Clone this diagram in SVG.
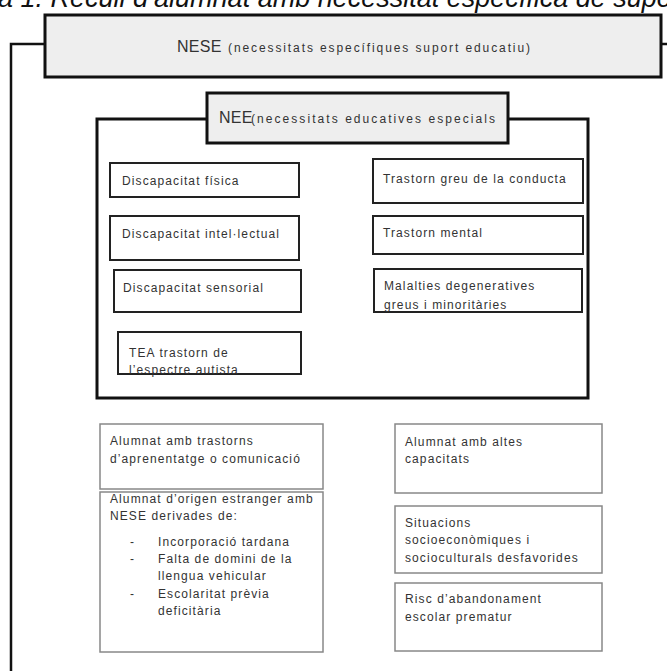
<svg xmlns="http://www.w3.org/2000/svg" width="667" height="671" viewBox="0 0 667 671">
<style>
text{font-family:"Liberation Sans",Arial,sans-serif;fill:#333;}
.cap{font-style:italic;font-size:27px;fill:#111;}
.hd{fill:#eeeeee;stroke:#111;stroke-width:3;}
.bx{fill:#fff;stroke:#222;stroke-width:2;}
.lb{fill:#fff;stroke:#888;stroke-width:1.5;}
.t{font-size:12px;letter-spacing:1.1px;}
.ht{font-size:12px;}
.big{font-size:16px;letter-spacing:0.3px;}
.conn{fill:none;stroke:#111;stroke-width:2.5;}
</style>
<rect width="667" height="671" fill="#fff"/>
<text class="cap" x="-2" y="7">a 1. Recull d’alumnat amb necessitat específica de suport</text>
<g id="connectors">
<path class="conn" d="M45,44 H11 V671"/>
<path class="conn" d="M661,44 H667"/>
</g>
<g id="nee-container">
<rect x="97" y="119" width="491" height="279" fill="none" stroke="#111" stroke-width="3"/>
</g>
<g id="nese">
<rect class="hd" x="45" y="15" width="616" height="62"/>
<text class="big" x="177" y="52">NESE</text>
<text class="ht" x="228" y="52" textLength="302" lengthAdjust="spacing">(necessitats específiques suport educatiu)</text>
</g>
<g id="nee">
<rect class="hd" x="207" y="93" width="301" height="50"/>
<text class="big" x="219" y="123">NEE</text>
<text class="ht" x="251" y="123" textLength="244" lengthAdjust="spacing">(necessitats educatives especials</text>
</g>
<g id="fisica"><rect class="bx" x="110" y="163" width="189" height="34"/><text class="t" x="122" y="185">Discapacitat física</text></g>
<g id="intel"><rect class="bx" x="110" y="216" width="189" height="44"/><text class="t" x="122" y="238">Discapacitat intel·lectual</text></g>
<g id="sensorial"><rect class="bx" x="114" y="270" width="187" height="42"/><text class="t" x="123" y="292">Discapacitat sensorial</text></g>
<g id="tea"><rect class="bx" x="118" y="332" width="183" height="42"/><text class="t" x="129" y="357">TEA trastorn de</text><text class="t" x="129" y="374">l’espectre autista</text></g>
<g id="greu"><rect class="bx" x="373" y="159" width="210" height="44"/><text class="t" x="383" y="183">Trastorn greu de la conducta</text></g>
<g id="mental"><rect class="bx" x="373" y="216" width="210" height="38"/><text class="t" x="383" y="237">Trastorn mental</text></g>
<g id="malalties"><rect class="bx" x="374" y="269" width="208" height="43"/><text class="t" x="384" y="290">Malalties degeneratives</text><text class="t" x="384" y="309">greus i minoritàries</text></g>
<g id="trastorns"><rect class="lb" x="100" y="424" width="223" height="65"/><text class="t" x="110" y="445">Alumnat amb trastorns</text><text class="t" x="110" y="463">d’aprenentatge o comunicació</text></g>
<g id="estranger"><rect class="lb" x="100" y="492" width="223" height="160"/>
<text class="t" x="110" y="503">Alumnat d’origen estranger amb</text>
<text class="t" x="110" y="520">NESE derivades de:</text>
<text class="t" x="130" y="546">-</text><text class="t" x="158" y="546">Incorporació tardana</text>
<text class="t" x="130" y="563">-</text><text class="t" x="158" y="563">Falta de domini de la</text>
<text class="t" x="158" y="580">llengua vehicular</text>
<text class="t" x="130" y="598">-</text><text class="t" x="158" y="598">Escolaritat prèvia</text>
<text class="t" x="158" y="615">deficitària</text>
</g>
<g id="altes"><rect class="lb" x="395" y="424" width="207" height="69"/><text class="t" x="405" y="446">Alumnat amb altes</text><text class="t" x="405" y="463">capacitats</text></g>
<g id="situacions"><rect class="lb" x="395" y="506" width="207" height="67"/><text class="t" x="405" y="527">Situacions</text><text class="t" x="405" y="544">socioeconòmiques i</text><text class="t" x="405" y="562">socioculturals desfavorides</text></g>
<g id="risc"><rect class="lb" x="395" y="583" width="207" height="68"/><text class="t" x="405" y="603">Risc d’abandonament</text><text class="t" x="405" y="621">escolar prematur</text></g>
</svg>
